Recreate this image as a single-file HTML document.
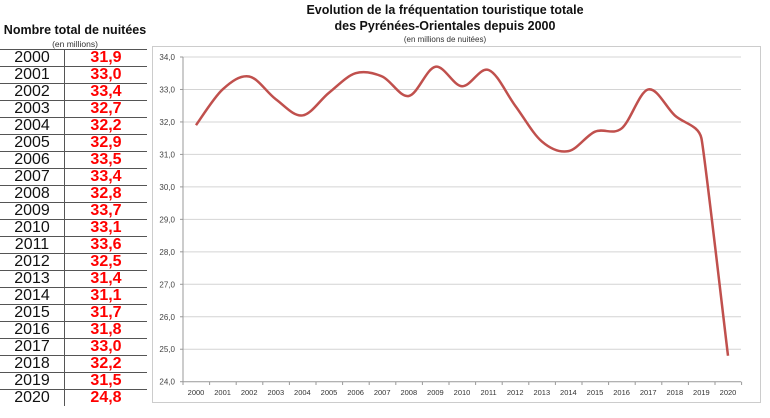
<!DOCTYPE html>
<html><head><meta charset="utf-8"><style>
body{margin:0;width:770px;height:418px;background:#fff;font-family:"Liberation Sans",sans-serif;overflow:hidden;position:relative}
.t{position:absolute;left:0;width:150px;text-align:center}
table{position:absolute;left:0;top:49px;border-collapse:collapse;width:147px}
td{height:16px;padding:0;border-top:1px solid #555;font-size:16px;line-height:16px;text-align:center}
td.y{width:64px;border-right:1px solid #555;color:#111}
td.v{color:#f00;font-weight:bold}
</style></head><body>
<div class="t" style="top:23px;font-weight:bold;font-size:12.5px;color:#111">Nombre total de nuitées</div>
<div class="t" style="top:39px;font-size:8.5px;color:#333">(en millions)</div>
<table id="tb"></table>
<svg width="770" height="418" style="position:absolute;left:0;top:0" font-family="Liberation Sans, sans-serif">
<text x="445" y="14" text-anchor="middle" font-size="12.5" font-weight="bold" fill="#111">Evolution de la fréquentation touristique totale</text>
<text x="445" y="30" text-anchor="middle" font-size="12.5" font-weight="bold" fill="#111">des Pyrénées-Orientales depuis 2000</text>
<text x="445" y="42" text-anchor="middle" font-size="8" fill="#333">(en millions de nuitées)</text>
<rect x="152.5" y="46.5" width="608" height="356" fill="none" stroke="#ccc"/>
<g id="g"></g>
</svg>
<script>
var v=[31.9,33.0,33.4,32.7,32.2,32.9,33.5,33.4,32.8,33.7,33.1,33.6,32.5,31.4,31.1,31.7,31.8,33.0,32.2,31.5,24.8];
var tb=document.getElementById('tb'),h='';
for(var i=0;i<21;i++)h+='<tr><td class="y">'+(2000+i)+'</td><td class="v">'+v[i].toFixed(1).replace('.',',')+'</td></tr>';
tb.innerHTML=h;
function X(i){return 196+i*26.6}function Y(a){return 381.7-(a-24)*32.47}
var s='';
for(var k=24;k<=34;k++){var y=Y(k);
s+='<line x1="183" x2="741" y1="'+y+'" y2="'+y+'" stroke="'+(k==24?'#999':'#d4d4d4')+'"/>';
s+='<line x1="180" x2="183" y1="'+y+'" y2="'+y+'" stroke="#999"/>';
s+='<text x="175" y="'+(y+3)+'" text-anchor="end" font-size="8" fill="#444">'+k+',0</text>';}
s+='<line x1="183" x2="183" y1="'+Y(34)+'" y2="'+Y(24)+'" stroke="#999"/>';
for(var i=0;i<=21;i++){var x=183+i*26.6;s+='<line x1="'+x+'" x2="'+x+'" y1="381.7" y2="385" stroke="#999"/>';}
for(var i=0;i<21;i++)s+='<text x="'+X(i)+'" y="395" text-anchor="middle" font-size="7.5" fill="#333">'+(2000+i)+'</text>';
function f(i){return i==19?1/18:1/6}
var p='M'+X(0)+','+Y(v[0]);
for(var i=0;i<20;i++){var p0=i?i-1:0,p3=i<19?i+2:20;
var c1x=X(i)+(X(i+1)-X(p0))*f(i),c1y=Y(v[i])+(Y(v[i+1])-Y(v[p0]))*f(i);
var c2x=X(i+1)-(X(p3)-X(i))*f(i+1),c2y=Y(v[i+1])-(Y(v[p3])-Y(v[i]))*f(i+1);
p+=' C'+c1x+','+c1y+' '+c2x+','+c2y+' '+X(i+1)+','+Y(v[i+1]);}
s+='<path d="'+p+'" fill="none" stroke="#c0504d" stroke-width="2.5"/>';
document.getElementById('g').innerHTML=s;
</script>
</body></html>
